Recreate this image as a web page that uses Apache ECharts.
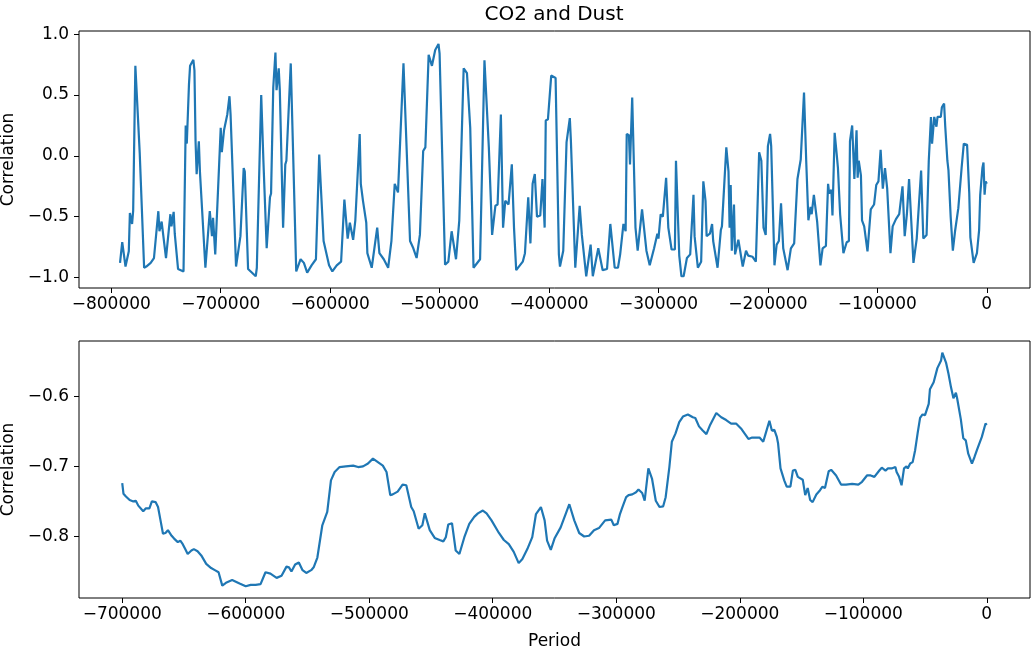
<!DOCTYPE html>
<html>
<head>
<meta charset="utf-8">
<script src="https://cdn.jsdelivr.net/npm/echarts@6/dist/echarts.min.js"></script>
<style>
html,body{margin:0;padding:0;background:#fff;}
#chart{width:1031px;height:650px;}
</style>
</head>
<body>
<div id="chart"></div>
<script>
// ---- Data ----
const chartTitle = "CO2 and Dust";
const yLabel = "Correlation";
const xLabel = "Period";

// Top panel: CO2 vs dust correlation
const topPeriod = [
-792000,-790000,-787000,-784000,-783000,-781000,-780000,-778000,-774000,-770000,
-768000,-764000,-761000,-760000,-757000,-756000,-754000,-750000,-746000,-745000,
-743000,-742000,-739000,-734000,-732000,-731000,-729000,-728000,-725000,-724000,
-723000,-722000,-720000,-719000,-714000,-710000,-708000,-707000,-705000,-700000,
-699000,-697000,-694000,-692000,-691000,-686000,-682000,-679000,-678000,-675000,
-668000,-667000,-663000,-661000,-658000,-655000,-654000,-652000,-650000,-649000,
-647000,-646000,-643000,-641000,-640000,-636000,-631000,-627000,-624000,-621000,
-617000,-613000,-610000,-606000,-601000,-598000,-594000,-590000,-587000,-584000,
-582000,-579000,-577000,-573000,-572000,-570000,-567000,-566000,-562000,-557000,
-555000,-551000,-547000,-544000,-541000,-538000,-533000,-527000,-524000,-521000,
-518000,-515000,-513000,-510000,-507000,-504000,-501000,-500000,-495000,-492000,
-489000,-485000,-482000,-478000,-475000,-472000,-469000,-463000,-459000,-455000,
-452000,-449000,-447000,-444000,-442000,-440000,-437000,-434000,-432000,-430000,
-424000,-422000,-419000,-417000,-415000,-413000,-411000,-408000,-406000,-404000,
-403000,-401000,-398000,-394000,-391000,-390000,-387000,-384000,-381000,-380000,
-376000,-372000,-370000,-366000,-362000,-360000,-355000,-351000,-347000,-344000,
-340000,-337000,-335000,-332000,-330000,-329000,-327000,-326000,-324000,-321000,
-319000,-315000,-311000,-308000,-304000,-301000,-300000,-298000,-296000,-293000,
-291000,-288000,-285000,-284000,-281000,-279000,-277000,-274000,-271000,-268000,
-267000,-264000,-261000,-259000,-257000,-256000,-253000,-251000,-250000,-246000,
-243000,-242000,-238000,-236000,-235000,-234000,-233000,-231000,-230000,-227000,
-223000,-220000,-218000,-214000,-211000,-208000,-206000,-204000,-202000,-200000,
-198000,-197000,-194000,-192000,-190000,-188000,-186000,-182000,-179000,-176000,
-173000,-170000,-167000,-165000,-163000,-161000,-160000,-158000,-155000,-152000,
-150000,-147000,-145000,-144000,-142000,-141000,-139000,-137000,-136000,-134000,
-131000,-128000,-126000,-125000,-123000,-121000,-119000,-118000,-117000,-115000,
-114000,-112000,-109000,-106000,-103000,-101000,-99000,-97000,-95000,-93000,
-91000,-88000,-86000,-83000,-80000,-77000,-75000,-73000,-71000,-67000,
-64000,-60000,-58000,-55000,-53000,-51000,-50000,-48000,-46000,-45000,
-42000,-41000,-39000,-38000,-36000,-35000,-33000,-31000,-29000,-26000,
-23000,-21000,-18000,-16000,-15000,-12000,-9000,-7000,-6000,-4000,
-3000,-2000,-1000,0
];
const topCorr = [
-0.88,-0.71,-0.91,-0.785,-0.47,-0.56,-0.45,0.74,0.02,-0.92,
-0.91,-0.88,-0.84,-0.85,-0.455,-0.62,-0.54,-0.84,-0.48,-0.58,
-0.46,-0.64,-0.93,-0.95,0.25,0.10,0.59,0.74,0.79,0.70,
0.12,-0.15,0.12,-0.13,-0.92,-0.455,-0.66,-0.51,-0.81,0.23,
0.03,0.21,0.34,0.49,0.34,-0.91,-0.66,-0.10,-0.13,-0.93,
-0.99,-0.92,0.50,-0.04,-0.76,-0.34,-0.31,0.56,0.85,0.54,
0.72,0.54,-0.59,-0.07,-0.04,0.76,-0.95,-0.85,-0.88,-0.96,
-0.90,-0.85,0.01,-0.70,-0.90,-0.95,-0.90,-0.87,-0.36,-0.68,
-0.55,-0.69,-0.53,0.18,-0.23,-0.37,-0.55,-0.80,-0.92,-0.59,
-0.80,-0.85,-0.92,-0.70,-0.23,-0.30,0.76,-0.70,-0.76,-0.84,
-0.65,0.04,0.07,0.83,0.74,0.87,0.92,0.84,-0.895,-0.87,
-0.62,-0.85,-0.53,0.72,0.68,0.23,-0.92,-0.85,0.785,0.07,
-0.65,-0.41,-0.40,0.34,-0.59,-0.37,-0.40,-0.07,-0.59,-0.94,
-0.87,-0.80,-0.34,-0.72,-0.23,-0.15,-0.50,-0.49,-0.19,-0.59,
0.29,0.30,0.66,0.64,-0.81,-0.91,-0.78,0.11,0.31,0.12,
-0.92,-0.41,-0.65,-0.99,-0.73,-0.99,-0.76,-0.94,-0.93,-0.56,
-0.92,-0.92,-0.81,-0.56,-0.62,0.18,0.17,-0.07,0.48,-0.59,
-0.78,-0.44,-0.78,-0.90,-0.76,-0.64,-0.68,-0.48,-0.50,-0.18,
-0.59,-0.77,-0.77,-0.04,-0.82,-0.99,-0.99,-0.84,-0.81,-0.32,
-0.66,-0.92,-0.87,-0.21,-0.37,-0.66,-0.64,-0.56,-0.70,-0.92,
-0.61,-0.58,0.07,-0.13,-0.59,-0.24,-0.78,-0.40,-0.81,-0.69,
-0.91,-0.78,-0.82,-0.83,-0.87,0.03,-0.04,-0.59,-0.65,0.08,
0.18,0.08,-0.90,-0.73,-0.70,-0.39,-0.76,-0.94,-0.76,-0.72,
-0.19,-0.03,0.52,-0.04,-0.53,-0.42,-0.48,-0.32,-0.54,-0.90,
-0.76,-0.74,-0.23,-0.31,-0.28,-0.49,0.19,0.0,-0.10,-0.48,
-0.80,-0.71,-0.70,0.12,0.25,-0.19,0.21,-0.18,-0.04,-0.16,
-0.53,-0.58,-0.785,-0.44,-0.40,-0.24,-0.21,0.05,-0.27,-0.10,
-0.27,-0.80,-0.58,-0.52,-0.48,-0.25,-0.66,-0.48,-0.19,-0.88,
-0.68,-0.12,-0.68,-0.65,-0.04,0.32,0.10,0.32,0.24,0.32,
0.32,0.40,0.43,0.25,-0.04,-0.12,-0.50,-0.78,-0.62,-0.43,
-0.10,0.10,0.09,-0.31,-0.67,-0.88,-0.80,-0.61,-0.32,-0.10,
-0.055,-0.32,-0.21,-0.23
];

// Bottom panel: smoothed correlation
const bottomPeriod = [
-700000,-699000,-697000,-694000,-691000,-689000,-687000,-683000,-681000,-678000,
-676000,-673000,-671000,-669000,-667000,-665000,-663000,-660000,-658000,-655000,
-653000,-651000,-649000,-647000,-644000,-642000,-639000,-636000,-632000,-628000,
-625000,-622000,-619000,-616000,-611000,-605000,-600000,-596000,-592000,-588000,
-584000,-580000,-575000,-571000,-567000,-565000,-563000,-560000,-557000,-554000,
-551000,-547000,-545000,-542000,-538000,-534000,-531000,-528000,-524000,-519000,
-513000,-509000,-505000,-501000,-497000,-493000,-489000,-486000,-483000,-481000,
-477000,-473000,-470000,-466000,-464000,-460000,-457000,-455000,-451000,-447000,
-443000,-440000,-438000,-436000,-433000,-430000,-427000,-423000,-419000,-415000,
-412000,-408000,-405000,-401000,-395000,-391000,-387000,-383000,-379000,-376000,
-372000,-368000,-365000,-361000,-358000,-356000,-353000,-350000,-345000,-341000,
-338000,-334000,-330000,-326000,-322000,-318000,-314000,-309000,-304000,-302000,
-299000,-297000,-295000,-292000,-290000,-287000,-284000,-282000,-279000,-277000,
-274000,-271000,-268000,-265000,-262000,-260000,-257000,-255000,-252000,-249000,
-246000,-242000,-238000,-236000,-233000,-230000,-227000,-224000,-219000,-215000,
-211000,-207000,-203000,-199000,-195000,-193000,-190000,-184000,-181000,-179000,
-176000,-174000,-172000,-170000,-169000,-167000,-164000,-162000,-159000,-157000,
-155000,-153000,-149000,-147000,-145000,-143000,-141000,-138000,-135000,-133000,
-131000,-128000,-126000,-122000,-118000,-114000,-109000,-104000,-101000,-97000,
-94000,-91000,-87000,-85000,-82000,-80000,-77000,-74000,-73000,-71000,
-69000,-67000,-65000,-64000,-62000,-60000,-58000,-56000,-54000,-52000,
-50000,-47000,-46000,-43000,-40000,-37000,-36000,-33000,-31000,-29000,
-27000,-25000,-24000,-21000,-19000,-17000,-15000,-12000,-10000,-8000,
-4000,-1000,0
];
const bottomCorr = [
-0.724,-0.739,-0.743,-0.748,-0.750,-0.749,-0.756,-0.764,-0.760,-0.760,
-0.750,-0.751,-0.758,-0.777,-0.796,-0.795,-0.791,-0.799,-0.803,-0.808,
-0.806,-0.811,-0.818,-0.825,-0.820,-0.818,-0.821,-0.827,-0.839,-0.845,
-0.848,-0.851,-0.870,-0.866,-0.862,-0.867,-0.871,-0.869,-0.869,-0.868,
-0.851,-0.853,-0.859,-0.856,-0.843,-0.844,-0.850,-0.840,-0.837,-0.848,
-0.852,-0.848,-0.844,-0.830,-0.784,-0.765,-0.720,-0.708,-0.701,-0.700,
-0.699,-0.701,-0.700,-0.696,-0.689,-0.694,-0.699,-0.708,-0.741,-0.740,
-0.736,-0.726,-0.727,-0.758,-0.764,-0.789,-0.784,-0.767,-0.791,-0.802,
-0.805,-0.807,-0.801,-0.783,-0.781,-0.820,-0.825,-0.801,-0.782,-0.772,
-0.767,-0.763,-0.767,-0.777,-0.795,-0.805,-0.811,-0.822,-0.838,-0.832,
-0.818,-0.801,-0.768,-0.758,-0.777,-0.806,-0.819,-0.803,-0.787,-0.768,
-0.754,-0.777,-0.795,-0.800,-0.799,-0.791,-0.788,-0.777,-0.776,-0.784,
-0.782,-0.768,-0.758,-0.744,-0.741,-0.740,-0.737,-0.733,-0.738,-0.749,
-0.703,-0.718,-0.749,-0.758,-0.757,-0.744,-0.701,-0.665,-0.653,-0.637,
-0.629,-0.626,-0.630,-0.631,-0.643,-0.649,-0.654,-0.641,-0.624,-0.630,
-0.634,-0.639,-0.639,-0.646,-0.656,-0.661,-0.659,-0.659,-0.665,-0.653,
-0.635,-0.649,-0.648,-0.658,-0.667,-0.703,-0.720,-0.729,-0.729,-0.706,
-0.705,-0.715,-0.719,-0.741,-0.731,-0.748,-0.751,-0.740,-0.734,-0.729,
-0.731,-0.707,-0.705,-0.713,-0.726,-0.726,-0.725,-0.726,-0.722,-0.713,
-0.713,-0.715,-0.706,-0.702,-0.706,-0.703,-0.703,-0.701,-0.708,-0.715,
-0.727,-0.703,-0.700,-0.703,-0.696,-0.694,-0.677,-0.653,-0.631,-0.626,
-0.627,-0.611,-0.590,-0.580,-0.560,-0.549,-0.538,-0.552,-0.568,-0.587,
-0.603,-0.595,-0.603,-0.633,-0.660,-0.663,-0.682,-0.696,-0.687,-0.677,
-0.658,-0.639,-0.641
];

// Tick values
const topXTicks = [-800000,-700000,-600000,-500000,-400000,-300000,-200000,-100000,0];
const topYTicks = [-1.0,-0.5,0.0,0.5,1.0];
const bottomXTicks = [-700000,-600000,-500000,-400000,-300000,-200000,-100000,0];
const bottomYTicks = [-0.8,-0.7,-0.6];

// ---- Chart ----
const FONT = "'DejaVu Sans', sans-serif";
const minusFix = s => String(s).replace(/-/g, "\u2212");
const fmtInt = v => minusFix(Math.round(v).toString());
const fmt1 = v => minusFix((Math.abs(v) < 1e-9 ? 0 : v).toFixed(1));

function zip(xs, ys) { return xs.map((x, i) => [x, ys[i]]); }

function xAxisCfg(grid, min, max, ticks, name) {
  return {
    type: 'value', gridIndex: grid, min: min, max: max, position: 'bottom',
    axisLine: { show: false, onZero: false },
    splitLine: { show: false },
    axisTick: { show: true, length: 5, customValues: ticks, lineStyle: { color: '#000', width: 1 } },
    axisLabel: { customValues: ticks, formatter: fmtInt, fontSize: 17, color: '#000', fontFamily: FONT, margin: 8 },
    name: name || '', nameLocation: 'middle', nameGap: 35,
    nameTextStyle: { fontSize: 17, color: '#000', fontFamily: FONT }
  };
}
function yAxisCfg(grid, min, max, ticks) {
  return {
    type: 'value', gridIndex: grid, min: min, max: max, position: 'left',
    axisLine: { show: false, onZero: false },
    splitLine: { show: false },
    axisTick: { show: true, length: 5, customValues: ticks, lineStyle: { color: '#000', width: 1 } },
    axisLabel: { customValues: ticks, formatter: fmt1, fontSize: 17, color: '#000', fontFamily: FONT, margin: 10 },
    name: yLabel, nameLocation: 'middle', nameGap: 56,
    nameTextStyle: { fontSize: 17, color: '#000', fontFamily: FONT }
  };
}

const chart = echarts.init(document.getElementById('chart'), null, { renderer: 'canvas' });
chart.setOption({
  animation: false,
  backgroundColor: '#fff',
  title: {
    text: chartTitle, left: 554, top: 5, textAlign: 'center', padding: 0,
    textStyle: { fontSize: 20, fontWeight: 'normal', color: '#000', fontFamily: FONT }
  },
  grid: [
    { left: 79, right: 1, top: 31, height: 257, show: true, borderColor: '#000', borderWidth: 1,
      containLabel: false, outerBoundsMode: 'none' },
    { left: 79, right: 1, top: 341, height: 257, show: true, borderColor: '#000', borderWidth: 1,
      containLabel: false, outerBoundsMode: 'none' }
  ],
  xAxis: [
    xAxisCfg(0, -829500, 39500, topXTicks),
    xAxisCfg(1, -735000, 35000, bottomXTicks, xLabel)
  ],
  yAxis: [
    yAxisCfg(0, -1.0865, 1.0265, topYTicks),
    yAxisCfg(1, -0.8877, -0.5213, bottomYTicks)
  ],
  series: [
    { type: 'line', xAxisIndex: 0, yAxisIndex: 0, data: zip(topPeriod, topCorr),
      showSymbol: false, symbol: 'none', lineStyle: { color: '#1f77b4', width: 2.2 }, clip: true },
    { type: 'line', xAxisIndex: 1, yAxisIndex: 1, data: zip(bottomPeriod, bottomCorr),
      showSymbol: false, symbol: 'none', lineStyle: { color: '#1f77b4', width: 2.2 }, clip: true }
  ]
});
</script>
</body>
</html>
